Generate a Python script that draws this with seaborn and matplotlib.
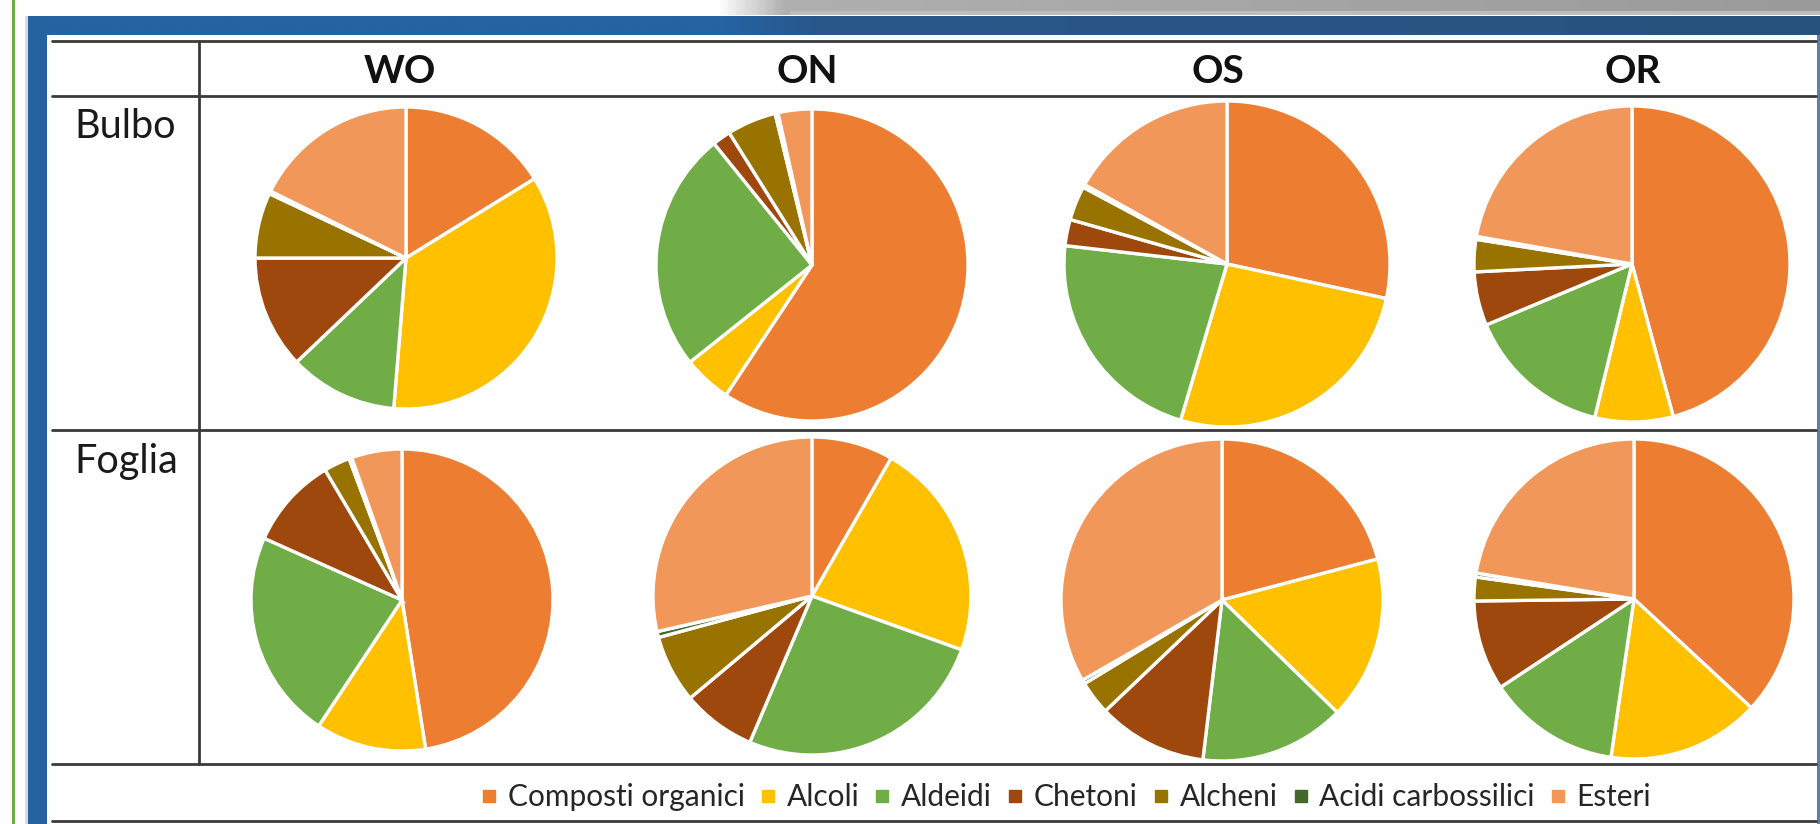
import numpy as np
import matplotlib
matplotlib.use("Agg")
import matplotlib.pyplot as plt
from matplotlib.patches import Rectangle
from matplotlib.lines import Line2D
from matplotlib.colors import LinearSegmentedColormap
import seaborn as sns

# Volatile compound classes, in slice order (clockwise from 12 o'clock)
categories = ["Composti organici", "Alcoli", "Aldeidi", "Chetoni",
              "Alcheni", "Acidi carbossilici", "Esteri"]
cultivars = ["WO", "ON", "OS", "OR"]
tissues = ["Bulbo", "Foglia"]

# Percentage share of each class (same order as categories)
bulbo_wo = [16.2, 35.1, 11.6, 12.1, 7.0, 0.3, 17.7]
bulbo_on = [59.3, 5.0, 24.9, 1.9, 5.1, 0.3, 3.5]
bulbo_os = [28.4, 26.2, 22.2, 2.6, 3.4, 0.3, 16.9]
bulbo_or = [45.8, 8.0, 14.9, 5.5, 3.3, 0.3, 22.2]
foglia_wo = [47.5, 11.8, 22.4, 9.8, 2.8, 0.3, 5.4]
foglia_on = [8.3, 22.2, 25.9, 7.5, 6.9, 0.6, 28.6]
foglia_os = [20.9, 16.4, 14.6, 11.0, 3.4, 0.4, 33.3]
foglia_or = [36.9, 15.4, 13.4, 9.1, 2.4, 0.4, 22.4]

shares = {
    "Bulbo": [bulbo_wo, bulbo_on, bulbo_os, bulbo_or],
    "Foglia": [foglia_wo, foglia_on, foglia_os, foglia_or],
}

# ---- styling -------------------------------------------------------------
sns.set_theme(style="white")
plt.rcParams["font.family"] = ["Lato", "DejaVu Sans"]
palette = sns.color_palette(["#ED7D31", "#FFC000", "#70AD47", "#9E480E",
                             "#997300", "#43682B", "#F1975A"])

W, H = 1820, 824
fig = plt.figure(figsize=(W / 100, H / 100), dpi=100)
fig.patch.set_facecolor("white")
ax = fig.add_axes([0, 0, 1, 1])


def fy(y):
    """Pixel row measured from the top -> axis y."""
    return H - y


# page decorations: side rule, blue frame, shadow strip
ax.add_patch(Rectangle((11.5, 0), 3.5, H, color="#6DB040", lw=0))
ax.add_patch(Rectangle((24.5, 0), 3.5, fy(16), color="#DADADA", lw=0))

grey = LinearSegmentedColormap.from_list(
    "g", [(0, "#FFFFFF"), (0.06, "#B0B0B0"), (1, "#9A9A9A")])
ax.imshow(np.linspace(0, 1, 400)[None, :], cmap=grey, aspect="auto",
          extent=[715, W, fy(15), fy(0)], interpolation="bilinear", zorder=1)
ax.add_patch(Rectangle((790, fy(15)), W - 790, 4, color="#BDBDBD", lw=0, zorder=1))

blue = LinearSegmentedColormap.from_list(
    "b", [(0, "#2563A2"), (0.39, "#2563A2"), (0.44, "#28578A"), (1, "#28537E")])
ax.imshow(np.linspace(0, 1, 600)[None, :], cmap=blue, aspect="auto",
          extent=[28, W, fy(35), fy(16)], interpolation="bilinear", zorder=2)
ax.add_patch(Rectangle((28, 0), 19, fy(16), color="#2462A0", lw=0, zorder=2))
ax.add_patch(Rectangle((1816.5, 0), 3.5, fy(35), color="#5F7FA3", lw=0, zorder=2))

# table grid
line_kw = dict(color="#3A3A3A", lw=2.0, zorder=3)
for y in (41, 96, 430, 764, 821):
    ax.plot([52, 1816], [fy(y), fy(y)], **line_kw)
ax.plot([199, 199], [fy(41), fy(764)], **line_kw)

# header and row labels
header_x = [400, 807, 1218, 1633]
for name, x in zip(cultivars, header_x):
    ax.text(x, fy(83), name, ha="center", va="baseline", fontsize=28,
            fontweight="bold", color="#111111")
for name, y in zip(tissues, [138, 473]):
    ax.text(74, fy(y), name, ha="left", va="baseline", fontsize=28.5,
            color="#1A1A1A")

# pie placement: centre x, centre y (from top), radius in pixels
pie_frame = {
    "Bulbo": [(406, 258, 151), (812, 265, 156), (1227, 264, 163), (1632, 264, 158)],
    "Foglia": [(402, 600, 151), (812, 596, 159), (1222, 600, 161), (1634, 599, 160)],
}

for tissue in tissues:
    for vals, (cx, cy, r) in zip(shares[tissue], pie_frame[tissue]):
        ax.pie(vals, colors=palette, startangle=90, counterclock=False,
               center=(cx, fy(cy)), radius=r, frame=True,
               wedgeprops=dict(edgecolor="white", linewidth=2.4))

ax.set_xlim(0, W)
ax.set_ylim(0, H)
ax.set_aspect("auto")
ax.axis("off")

# legend
handles = [Line2D([], [], marker="s", ls="none", markersize=8,
                  markerfacecolor=c, markeredgecolor=c) for c in palette]
fig.legend(handles, categories, ncol=7, loc="center",
           bbox_to_anchor=(1066 / W, 1 - 797 / H), frameon=False,
           fontsize=21.5, handlelength=0.55, handletextpad=0.35,
           columnspacing=0.5, labelcolor="#262626")

fig.savefig("out.png", dpi=100, facecolor="white")
